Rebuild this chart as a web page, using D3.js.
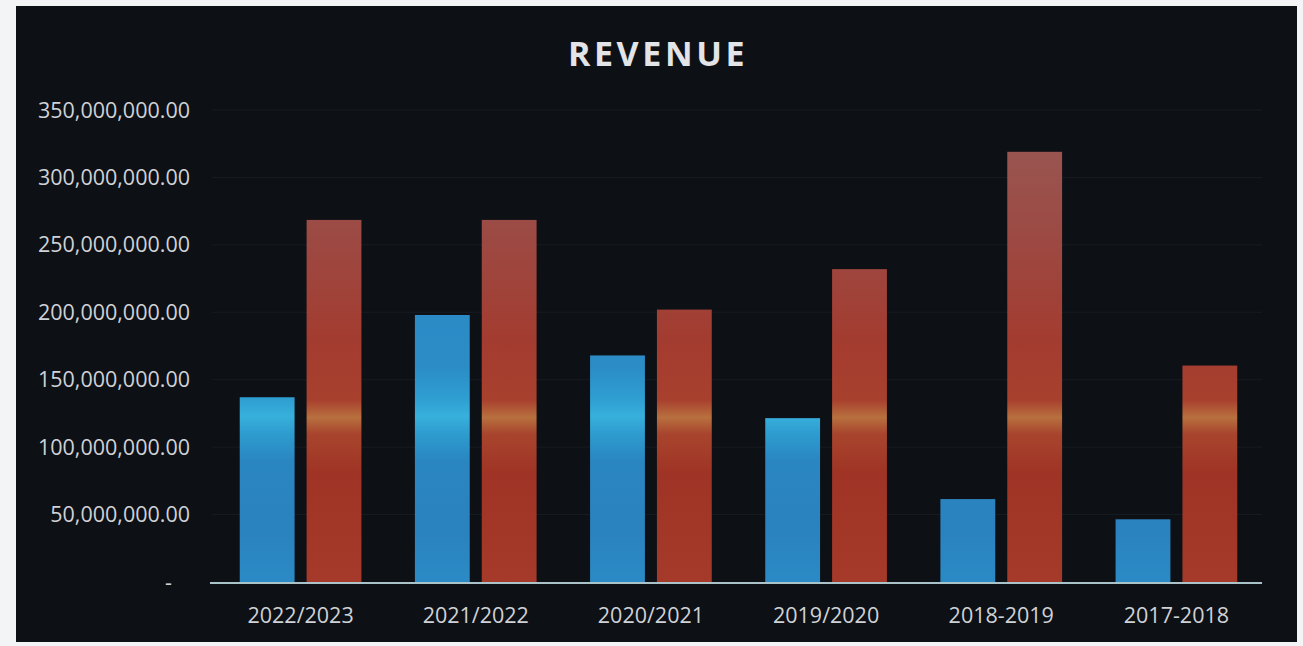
<!DOCTYPE html>
<html>
<head>
<meta charset="utf-8">
<script src="https://cdn.jsdelivr.net/npm/d3@7/dist/d3.min.js"></script>
<style>
  html, body { margin: 0; padding: 0; background: #f3f4f6; }
  svg { display: block; }
</style>
</head>
<body>
<svg id="chart" width="1303" height="646"></svg>
<script>
const categories = ["2022/2023", "2021/2022", "2020/2021", "2019/2020", "2018-2019", "2017-2018"];
const seriesNames = ["A", "B"];
const seriesA = [137000000, 198000000, 168000000, 121500000, 61500000, 46500000];
const seriesB = [268500000, 268500000, 202000000, 232000000, 319000000, 160500000];
const tickValues = [0, 50000000, 100000000, 150000000, 200000000, 250000000, 300000000, 350000000];
const tickLabels = ["-", "50,000,000.00", "100,000,000.00", "150,000,000.00", "200,000,000.00", "250,000,000.00", "300,000,000.00", "350,000,000.00"];
const title = "REVENUE";

const svg = d3.select("#chart");

// dark chart panel (photo of a screen, white margins around)
svg.append("rect").attr("x", 16).attr("y", 6).attr("width", 1281).attr("height", 636).attr("fill", "#0d1015");

const y = d3.scaleLinear().domain([0, 350000000]).range([582, 110]);
const x0 = d3.scaleBand().domain(categories).range([213, 1264]).padding(0);
const x1 = d3.scaleBand().domain(seriesNames).range([0, x0.bandwidth()]).paddingInner(0.18).paddingOuter(0.4);

// gradients fixed in screen space (glare band)
const defs = svg.append("defs");
function off(v) { return (y(v) - y(350000000)) / (y(0) - y(350000000)); }
const gA = defs.append("linearGradient").attr("id", "gA").attr("gradientUnits", "userSpaceOnUse")
  .attr("x1", 0).attr("x2", 0).attr("y1", y(350000000)).attr("y2", y(0));
[[0, "#2b86c2"], [off(160000000), "#2b8cc6"], [off(135000000), "#2f9fd2"], [off(123000000), "#37b0dc"], [off(110000000), "#2e9ccf"], [off(90000000), "#2a86c1"], [off(40000000), "#2a82be"], [1, "#2b8ac5"]]
  .forEach(s => gA.append("stop").attr("offset", s[0]).attr("stop-color", s[1]));
const gB = defs.append("linearGradient").attr("id", "gB").attr("gradientUnits", "userSpaceOnUse")
  .attr("x1", 0).attr("x2", 0).attr("y1", y(350000000)).attr("y2", y(0));
[[0, "#985a56"], [off(260000000), "#9c4a44"], [off(180000000), "#a33c30"], [off(135000000), "#a8402e"], [off(122000000), "#b8703e"], [off(110000000), "#a8452e"], [off(80000000), "#9f3325"], [1, "#a53a2a"]]
  .forEach(s => gB.append("stop").attr("offset", s[0]).attr("stop-color", s[1]));

// faint gridlines
svg.append("g").selectAll("line").data(tickValues.slice(1)).join("line")
  .attr("x1", 212).attr("x2", 1262)
  .attr("y1", d => y(d)).attr("y2", d => y(d))
  .attr("stroke", "#181c22").attr("stroke-width", 1);

// y tick labels
svg.append("g").selectAll("text").data(tickValues).join("text")
  .attr("x", (d, i) => i === 0 ? 172 : 190)
  .attr("y", d => y(d))
  .attr("dy", "0.35em")
  .attr("text-anchor", "end")
  .attr("font-family", "'Open Sans', sans-serif")
  .attr("font-size", 21.5)
  .attr("fill", "#cfd2d6")
  .text((d, i) => tickLabels[i]);

// bars
const data = categories.map((c, i) => ({ cat: c, vals: [{ s: "A", v: seriesA[i] }, { s: "B", v: seriesB[i] }] }));
const groups = svg.append("g").selectAll("g").data(data).join("g")
  .attr("transform", d => `translate(${x0(d.cat)},0)`);
groups.selectAll("rect").data(d => d.vals).join("rect")
  .attr("x", d => x1(d.s))
  .attr("width", x1.bandwidth())
  .attr("y", d => y(d.v))
  .attr("height", d => y(0) - y(d.v))
  .attr("fill", d => d.s === "A" ? "url(#gA)" : "url(#gB)");

// x axis baseline
svg.append("line").attr("x1", 210).attr("x2", 1262).attr("y1", y(0) + 1).attr("y2", y(0) + 1)
  .attr("stroke", "#a9c3c8").attr("stroke-width", 2);

// x labels
svg.append("g").selectAll("text").data(categories).join("text")
  .attr("x", d => x0(d) + x0.bandwidth() / 2)
  .attr("y", 623)
  .attr("text-anchor", "middle")
  .attr("font-family", "'Open Sans', sans-serif")
  .attr("font-size", 21.5)
  .attr("fill", "#cfd2d6")
  .text(d => d);

// title
svg.append("text").attr("x", 658).attr("y", 66)
  .attr("text-anchor", "middle")
  .attr("font-family", "'Open Sans', sans-serif")
  .attr("font-weight", "bold")
  .attr("font-size", 34)
  .attr("letter-spacing", 3.6)
  .attr("fill", "#e2e4e8")
  .text(title);
</script>
</body>
</html>
